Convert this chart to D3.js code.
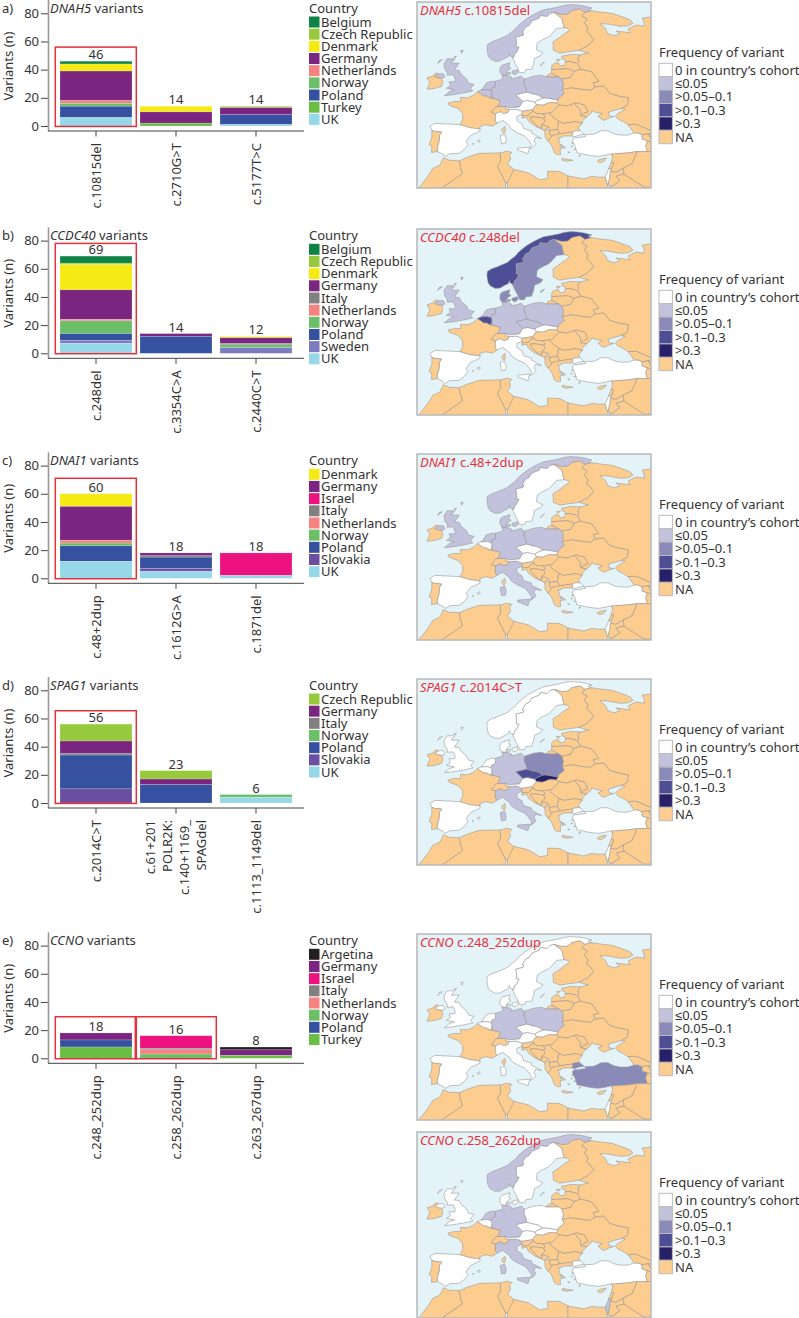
<!DOCTYPE html>
<html>
<head>
<meta charset="utf-8">
<script src="https://d3js.org/d3.v7.min.js"></script>
<style>
body { margin: 0; background: #fff; }
text { font-family: "Noto Sans", sans-serif; fill: #333; }
</style>
</head>
<body>
<div class="container"></div>
<script>
var dnah5Variants = ['c.10815del', 'c.2710G>T', 'c.5177T>C'];
var dnah5Countries = ['Belgium', 'Czech Republic', 'Denmark', 'Germany', 'Netherlands', 'Norway', 'Poland', 'Turkey', 'UK'];
var dnah5Values = [[2, 0, 0], [0, 0, 1], [5, 4, 0], [21, 8, 5], [2, 0, 0], [2, 0, 0], [8, 0, 7], [0, 2, 0], [6, 0, 1]];
var dnah5Totals = [46, 14, 14];

var ccdc40Variants = ['c.248del', 'c.3354C>A', 'c.2440C>T'];
var ccdc40Countries = ['Belgium', 'Czech Republic', 'Denmark', 'Germany', 'Italy', 'Netherlands', 'Norway', 'Poland', 'Sweden', 'UK'];
var ccdc40Values = [[5, 0, 0], [1, 0, 0], [18, 0, 1], [21, 2, 4], [0, 0, 1], [1, 0, 0], [9, 0, 2], [5, 12, 0], [2, 0, 4], [7, 0, 0]];
var ccdc40Totals = [69, 14, 12];

var dnai1Variants = ['c.48+2dup', 'c.1612G>A', 'c.1871del'];
var dnai1Countries = ['Denmark', 'Germany', 'Israel', 'Italy', 'Netherlands', 'Norway', 'Poland', 'Slovakia', 'UK'];
var dnai1Values = [[9, 0, 0], [24, 2, 0], [0, 0, 16], [0, 1, 0], [2, 0, 0], [2, 0, 0], [11, 8, 0], [0, 2, 0], [12, 5, 2]];
var dnai1Totals = [60, 18, 18];

var spag1Variants = ['c.2014C>T', ['c.61+201', 'POLR2K:', 'c.140+1169_', 'SPAGdel'], 'c.1113_1149del'];
var spag1Countries = ['Czech Republic', 'Germany', 'Italy', 'Norway', 'Poland', 'Slovakia', 'UK'];
var spag1Values = [[12, 6, 0], [9, 4, 0], [1, 0, 0], [0, 0, 2], [24, 13, 0], [10, 0, 0], [0, 0, 4]];
var spag1Totals = [56, 23, 6];

var ccnoVariants = ['c.248_252dup', 'c.258_262dup', 'c.263_267dup'];
var ccnoCountries = ['Argetina', 'Germany', 'Israel', 'Italy', 'Netherlands', 'Norway', 'Poland', 'Turkey'];
var ccnoValues = [[0, 0, 2], [5, 0, 4], [0, 9, 0], [0, 1, 0], [0, 3, 0], [0, 3, 0], [5, 0, 0], [8, 0, 2]];
var ccnoTotals = [18, 16, 8];

var yTicks = [0, 20, 40, 60, 80];

var countryColours = {
    'Argetina': '#231f20', 'Belgium': '#0f8345', 'Czech Republic': '#97c93d', 'Denmark': '#f5ea14',
    'Germany': '#7a2580', 'Israel': '#ec1380', 'Italy': '#808080', 'Netherlands': '#f58181',
    'Norway': '#6cbf69', 'Poland': '#36519f', 'Slovakia': '#6a4ea0', 'Sweden': '#7b7bbd',
    'Turkey': '#6abd45', 'UK': '#96d8e8'
};

var freqLabels = ['0 in country\u2019s cohort', '\u22640.05', '>0.05\u20130.1', '>0.1\u20130.3', '>0.3', 'NA'];
var freqColours = ['#ffffff', '#c3c2dc', '#8a8ab8', '#4d4e96', '#272068', '#fdcd90'];

// outlines as [lon, lat]
var norway = [[[11.2,59],[10.6,59.3],[10.5,59.8],[10.2,59.1],[9.3,58.7],[8.2,58.1],[7,58],[5.7,58.6],[5.2,59.3],[5,60.3],[4.9,61],[5,61.9],[6,62.5],[7.5,63],[8.8,63.5],[10,64],[11,64.8],[12,65.5],[12.8,66.4],[14,67.3],[15,68],[16.3,68.7],[17.5,69.3],[19,69.9],[20.8,70.2],[22.5,70.5],[24,70.9],[25.7,71.1],[27.5,71],[29,70.8],[31,70.3],[30,70],[30.9,69.7],[29.3,69.3],[28,70.1],[26,69.7],[25,68.9],[23.5,68.8],[21.6,69.3],[20.6,69.05],[19.9,68.35],[18.1,68.55],[17.9,67.95],[16.1,67.3],[15.4,66.3],[14.5,65.9],[13.7,64.6],[14.1,64.5],[13.9,64],[12.1,63.6],[12.3,62.3],[12.2,61.4],[12.9,61.3],[12.2,60],[11.8,59.8],[11.6,58.9]]];
var sweden = [[[20.6,69.05],[21.6,69.3],[23.6,67.9],[23.7,67.2],[24.1,65.8],[22.2,65.6],[21.3,64.6],[20.3,63.7],[18.5,62.9],[17.4,62.2],[17.2,60.7],[18.8,60],[18.2,59.3],[16.7,58.7],[16.5,57.5],[16,56.2],[14.6,56.1],[14.2,55.4],[13,55.4],[12.7,56.2],[11.9,57.5],[11.2,59],[11.6,58.9],[11.8,59.8],[12.2,60],[12.9,61.3],[12.2,61.4],[12.3,62.3],[12.1,63.6],[13.9,64],[14.1,64.5],[13.7,64.6],[14.5,65.9],[15.4,66.3],[16.1,67.3],[17.9,67.95],[18.1,68.55],[19.9,68.35]],
    [[18.2,57],[18.9,57.5],[19.2,57.9],[18.4,57.4]]];
var finland = [[[21.6,69.3],[23.5,68.8],[25,68.9],[26,69.7],[28,70.1],[29.3,69.3],[28.5,68.5],[29.9,67.7],[29.1,66.9],[30.1,65.7],[29.7,64.8],[30.5,64.2],[31.5,63],[29.8,61.5],[27.8,60.55],[25,60.2],[23,59.9],[21.4,60.6],[21.4,61.5],[21.3,62.5],[22.8,63.4],[24.5,64.6],[25.4,65.1],[25,65.6],[24.1,65.8],[23.7,67.2],[23.6,67.9]]];
var russia = [[[30.9,69.7],[33,69.4],[36,69.1],[38.5,68.3],[40.5,67.6],[41.2,66.8],[40,66.2],[38,66.1],[35,66.6],[33,66.7],[34.5,65.5],[34.8,64.5],[36.5,63.9],[38,64.4],[37,65],[40.5,64.6],[40,65.5],[42,66.4],[44,66.1],[44,67],[43.5,68],[46,68.3],[50,68],[50,41.9],[46,41.9],[44,42.7],[42,43.5],[40,43.4],[39,44],[37.5,44.7],[36.8,45.4],[37.5,46],[39.3,47],[38.2,47.1],[39.8,47.9],[40.1,49.6],[38,49.9],[35.4,50.6],[34,52.3],[31.8,52.1],[31.3,53.1],[32.7,53.4],[30.9,55.6],[28.2,56.2],[27.4,57.5],[27.7,57.8],[27.5,58.8],[28.1,59.5],[30.2,59.95],[29,60.2],[27.8,60.55],[29.8,61.5],[31.5,63],[30.5,64.2],[29.7,64.8],[30.1,65.7],[29.1,66.9],[29.9,67.7],[28.5,68.5],[29.3,69.3]],
    [[19.7,54.4],[22.8,54.4],[21,55.3],[20,54.9]]];
var estonia = [[[24.4,57.9],[25.3,58],[27.4,57.5],[27.7,57.8],[27.5,58.8],[28.1,59.5],[25.8,59.6],[23.5,59.2],[23.6,58.6],[24.4,58.3]], [[22.1,58.4],[23.2,58.5],[22.6,58]]];
var latvia = [[[21,56.1],[21,57],[21.7,57.6],[22.6,57.7],[23.2,57],[24.2,57.1],[24.4,57.9],[25.3,58],[27.4,57.5],[28.2,56.2],[26.6,55.7],[25,56.3]]];
var lithuania = [[[21,55.3],[21,56.1],[25,56.3],[26.6,55.7],[25.7,54.3],[23.5,53.9],[22.8,54.4]]];
var belarus = [[[23.6,51.5],[25.8,51.9],[28,51.6],[30.6,51.3],[31.8,52.1],[31.3,53.1],[32.7,53.4],[30.9,55.6],[28.2,56.2],[26.6,55.7],[25.7,54.3],[23.5,53.9],[23.9,52.7]]];
var ukraine = [[[23.6,51.5],[25.8,51.9],[28,51.6],[30.6,51.3],[31.8,52.1],[34,52.3],[35.4,50.6],[38,49.9],[40.1,49.6],[39.8,47.9],[38.2,47.1],[36.5,46.7],[35,46.2],[35.4,45.4],[36.5,45.3],[35.4,45],[34,44.4],[33.5,44.6],[32.5,45.4],[33.6,46],[32,46.2],[31,46.6],[30.7,46],[29.7,45.2],[28.2,45.45],[28.9,46],[30,46.4],[29.2,47.9],[27.2,48.4],[26.6,48.3],[24.9,47.7],[22.9,47.95],[22.15,48.4],[22.55,49.1],[22.7,49.6],[24.1,50.6]]];
var moldova = [[[26.6,48.3],[27.2,48.4],[29.2,47.9],[30,46.4],[28.9,46],[28.2,45.45],[28.1,46.7]]];
var romania = [[[20.3,46.1],[21.1,46.3],[22.9,47.95],[24.9,47.7],[26.6,48.3],[28.1,46.7],[28.2,45.45],[29.7,45.2],[28.7,44.3],[28.6,43.7],[27,44.1],[24,43.7],[22.7,44.2],[21.4,45.1]]];
var bulgaria = [[[22.7,44.2],[24,43.7],[27,44.1],[28.6,43.7],[27.7,42.7],[28,42],[26.9,42],[26.1,41.7],[24.5,41.5],[23,41.3],[22.4,42.3],[22.5,43]]];
var poland = [[[14.2,53.9],[16.5,54.6],[18.4,54.8],[19.7,54.4],[22.8,54.4],[23.5,53.9],[23.9,52.7],[23.6,51.5],[24.1,50.6],[22.7,49.6],[22.55,49.1],[20.9,49.35],[19.5,49.55],[18.85,49.5],[17.7,50.2],[16.9,50.4],[16.2,50.5],[14.8,50.9],[14.6,51.8],[14.1,52.9]]];
var germany = [[[7,53.4],[8,53.7],[8.9,53.9],[8.6,54.9],[9.9,54.8],[11,54.4],[10.9,54],[12.2,54.2],[13.4,54.6],[14.2,53.9],[14.1,52.9],[14.6,51.8],[14.8,50.9],[12.1,50.3],[13.8,48.8],[13,47.5],[10.2,47.3],[9.5,47.6],[7.6,47.6],[8.2,49],[6.4,49.45],[6.1,50.1],[6.1,50.8],[6,51.2],[6,51.8],[7,52.2]]];
var denmark = [[[8.6,54.9],[8.1,55.6],[8.2,56.6],[8.6,57.1],[10.6,57.7],[10.3,56.7],[10.9,56.4],[10,55.8],[9.6,55.2],[9.9,54.8]], [[11.1,55.7],[12.5,56.1],[12.6,55.4],[11.9,54.9],[11.2,55.2]], [[9.8,55.4],[10.8,55.4],[10.6,55],[9.9,55.1]]];
var netherlands = [[[3.4,51.4],[4,52],[4.7,53],[6,53.4],[7,53.4],[7,52.2],[6,51.8],[6,51.2],[5,51.5]]];
var belgium = [[[3.4,51.4],[5,51.5],[6,51.2],[6.1,50.8],[6.1,50.1],[5.8,49.5],[4.8,50],[4.1,50],[2.5,51.05]]];
var luxembourg = [[[5.8,49.5],[6.4,49.45],[6.1,50.1]]];
var france = [[[2.5,51.05],[4.1,50],[4.8,50],[5.8,49.5],[6.4,49.45],[8.2,49],[7.6,47.6],[7,47.4],[6,46.2],[7,45.9],[7,44.2],[7.5,43.8],[6.2,43.05],[4.5,43.4],[3.1,42.9],[3.2,42.4],[0.7,42.7],[-1.8,43.4],[-1.1,44.7],[-1.2,46],[-2.2,47.1],[-4.5,47.9],[-4.8,48.4],[-3,48.8],[-1.6,48.7],[-1.7,49.7],[0.1,49.6],[1.6,50.2]],
    [[8.6,42.4],[9.4,43],[9.5,42.1],[9.2,41.4],[8.7,41.8]]];
var switzerland = [[[7.6,47.6],[9.5,47.6],[9.5,47.1],[10.5,46.9],[10.1,46.2],[9,45.9],[8.3,46.4],[7,45.9],[6,46.2],[7,47.4]]];
var spain = [[[-1.8,43.4],[0.7,42.7],[3.2,42.4],[3.1,41.9],[0.8,40.9],[-0.3,39.5],[0.2,38.8],[-0.7,37.7],[-2,36.8],[-4.4,36.7],[-5.4,36.1],[-6.3,36.7],[-7.4,37.2],[-7.5,38],[-7,39.6],[-6.9,41],[-6.3,41.7],[-8.1,41.85],[-8.8,42.1],[-9.3,43],[-8,43.7],[-3.5,43.5]],
    [[2.4,39.6],[3.1,39.9],[3.2,39.4],[2.8,39.4]], [[1.2,38.9],[1.6,39.1],[1.5,38.9]]];
var portugal = [[[-8.8,42.1],[-8.1,41.85],[-6.3,41.7],[-6.9,41],[-7,39.6],[-7.5,38],[-7.4,37.2],[-8.9,37],[-8.8,38.4],[-9.5,38.8],[-8.8,40.5]]];
var italy = [[[7.5,43.8],[7,44.2],[7,45.9],[8.3,46.4],[9,45.9],[10.1,46.2],[10.5,46.9],[12.2,47],[13.7,46.5],[13.6,45.8],[12.3,45.3],[12.4,44.3],[13.6,43.6],[14,42.5],[16.1,41.9],[15.9,41.5],[18.5,40.2],[17,40.5],[16.6,39.8],[17.1,39],[16.5,38.4],[15.7,37.9],[16,38.8],[15.1,40],[14.2,40.8],[12.5,41.5],[11,42.4],[10.4,43.3],[8.8,44.4]],
    [[12.5,38],[15.5,38.2],[15.1,36.7],[12.5,37.6]], [[8.2,40.9],[9.3,41.2],[9.7,40],[9.5,39.1],[8.5,39]]];
var austria = [[[13.8,48.8],[15,49],[16.9,48.6],[17.2,48],[16.2,46.85],[13.7,46.5],[12.2,47],[10.5,46.9],[9.5,47.1],[9.5,47.6],[10.2,47.3],[13,47.5]]];
var czech = [[[12.1,50.3],[14.8,50.9],[16.2,50.5],[16.9,50.4],[17.7,50.2],[18.85,49.5],[17.2,48.9],[16.9,48.6],[15,49],[13.8,48.8]]];
var slovakia = [[[17.2,48.9],[18.85,49.5],[19.5,49.55],[20.9,49.35],[22.55,49.1],[22.15,48.4],[20.5,48.5],[18.8,47.9],[17.2,48],[16.9,48.6]]];
var hungary = [[[17.2,48],[18.8,47.9],[20.5,48.5],[22.15,48.4],[22.9,47.95],[21.1,46.3],[20.3,46.1],[18.9,45.9],[17.2,46],[16.4,46.5],[16.2,46.85]]];
var slovenia = [[[13.7,46.5],[16.2,46.85],[16.4,46.5],[15.6,46],[15.3,45.5],[13.6,45.5],[13.6,45.8]]];
var croatia = [[[13.6,45.5],[15.3,45.5],[15.6,46],[16.4,46.5],[17.2,46],[18.9,45.9],[19.4,45.2],[19,44.9],[17,45.2],[15.8,45.2],[15.8,44.7],[17.5,43],[18.5,42.45],[17,43],[15.2,44.2],[14.8,45.1],[14.2,45],[13.6,44.9]]];
var bosnia = [[[15.8,45.2],[17,45.2],[19,44.9],[19.4,44.2],[18.5,43.4],[18.5,42.45],[17.5,43],[15.8,44.7]]];
var montenegro = [[[18.5,42.45],[18.5,43.4],[19.4,43.3],[20.3,42.85],[19.6,42.5],[19.3,41.9]]];
var serbia = [[[18.9,45.9],[20.3,46.1],[21.4,45.1],[22.7,44.2],[22.5,43],[22.4,42.3],[21.5,42.2],[20.5,42.1],[20.3,42.85],[19.4,43.3],[18.5,43.4],[19.4,44.2],[19,44.9],[19.4,45.2]]];
var albania = [[[19.3,41.9],[19.6,42.5],[20.5,42.1],[20.5,41.3],[21,40.6],[20.1,39.6],[19.4,40.4]]];
var macedonia = [[[20.5,42.1],[21.5,42.2],[22.4,42.3],[23,41.3],[21,40.9],[20.5,41.3]]];
var greece = [[[20.1,39.6],[21,40.6],[21,40.9],[23,41.3],[24.5,41.5],[26.1,41.7],[26.3,41.2],[26,40.8],[24,40.8],[23,40.3],[22.6,40.4],[23,39.3],[22.7,38.9],[24,38],[23.1,37.9],[23.2,36.5],[22.4,36.5],[21.7,36.9],[21.2,38.2],[20.8,38.9]],
    [[23.6,35.6],[26.3,35.2],[24.8,34.95],[23.6,35.2]], [[27.8,36],[28.2,36.4],[27.9,36.4]], [[26,39.2],[26.6,39.3],[26.3,39]], [[25.9,38.5],[26.1,38.5],[26,38.2]], [[23.1,38.9],[24.5,38],[24,38.4]], [[25,37.1],[25.5,37.1],[25.3,36.9]], [[26.5,37.7],[27,37.8],[26.7,37.6]]];
var turkey = [[[26.2,39.5],[26.8,38.5],[27.3,36.9],[28.5,36.7],[30.5,36.3],[32.5,36.1],[34,36.3],[35.9,36.7],[36.2,36],[37,36.7],[40,36.9],[42.3,37.2],[44.8,37.2],[44.4,38.5],[44.8,39.7],[43.5,40.1],[43.5,41.1],[42.5,41.5],[41.5,41.5],[40,41],[38,41],[36.5,41.3],[35,42],[33.3,42],[31.5,41.2],[29.2,41.1],[29.5,40.7],[27.5,40.4],[26.7,40.4],[26.2,40.05]],
    [[26.3,41.2],[26.1,41.7],[26.9,42],[28,42],[29.1,41.2],[27.5,40.95],[26.8,40.6],[26,40.8]]];
var georgia = [[[40,43.4],[42,43.5],[44,42.7],[46,41.9],[46.5,41.2],[45,41.3],[43.5,41.1],[42.5,41.5],[41.5,41.5]]];
var armenia = [[[43.5,41.1],[45,41.3],[46.5,39],[44.8,39.7],[43.5,40.1]]];
var iran = [[[46,41.9],[50,41.9],[50,37],[44.8,37.2],[44.4,38.5],[44.8,39.7],[46.5,39],[45,41.3],[46.5,41.2]]];
var syria = [[[35.9,36.7],[36.2,36],[35.8,34.7],[36.4,34.6],[35.9,33.3],[35.6,32.7],[36.9,32.4],[38.8,33.4],[41,34.4],[42.3,37.2],[40,36.9],[37,36.7]]];
var lebanon = [[[35.1,33.1],[35.8,34.7],[36.4,34.6],[35.9,33.3]]];
var israel = [[[34.25,31.3],[34.9,32.5],[35.1,33.1],[35.9,33.3],[35.6,32.7],[35.5,31.5],[35,29.5],[34.9,29.5]]];
var jordan = [[[35.6,32.7],[36.9,32.4],[38.8,33.4],[39,32],[37,31.5],[38,30.5],[36.1,29.2],[35,29.5],[35.5,31.5]]];
var saudi = [[[35,29],[36.1,29.2],[38,30.5],[37,31.5],[39,32],[44,29],[50,29],[50,26],[35,26]]];
var iraq = [[[38.8,33.4],[41,34.4],[42.3,37.2],[44.8,37.2],[50,37],[50,29],[44,29],[39,32]]];
var cyprus = [[[32.3,35],[33,35.4],[34.6,35.7],[34,35],[33,34.6]]];
var egypt = [[[25,31.6],[29,30.9],[31,31.5],[32.3,31.3],[34.25,31.3],[34.9,29.5],[34.3,27.8],[33,28.5],[35,26],[36,22],[25,22]]];
var libya = [[[11.6,33.1],[15.2,32.3],[18,30.7],[20,31],[20,32.7],[23,32.6],[25,31.6],[25,22],[10,22],[10,30],[9.5,30.1]]];
var tunisia = [[[8.2,36.9],[9.9,37.3],[11.1,37],[10.5,36.4],[10.8,35.5],[10,34.3],[11.6,33.1],[10,30],[9.5,30.1],[7.5,33.8],[8.3,35]]];
var algeria = [[[-2,35.1],[0,35.9],[3,36.8],[8.2,36.9],[8.3,35],[7.5,33.8],[9.5,30.1],[10,22],[-5,22],[-8.7,27.3],[-1.2,32.1],[-1.7,33.5]]];
var morocco = [[[-5.9,35.8],[-4.5,35.2],[-2,35.1],[-1.7,33.5],[-1.2,32.1],[-8.7,27.3],[-13,27.7],[-9.8,31.5],[-8.6,33.3],[-6.8,34.1]]];
var uk = [[[-5.7,50.1],[-3.6,50.3],[-1,50.7],[1.4,51.2],[0.8,51.7],[1.7,52.7],[0.3,53],[-0.2,54],[-1.5,55],[-2,55.9],[-3.2,56],[-2,57.6],[-4,57.6],[-3.1,58.6],[-5,58.6],[-5.8,57.5],[-5.6,56.3],[-4.9,55.3],[-5,54.8],[-3.5,54.9],[-3,53.9],[-3.1,53.3],[-4.5,53.3],[-4.2,52.4],[-5.2,51.8],[-3.2,51.4],[-4.5,51]],
    [[-7.3,55.1],[-6,55.2],[-5.5,54.4],[-6.3,54.1],[-7.3,54.2],[-8.1,54.5]], [[-7.4,57.5],[-6.2,58.4],[-7,58.2]], [[-1.4,59.9],[-1,60.6],[-1.6,60.5]], [[-3.3,59],[-2.7,59.2],[-3,58.8]]];
var ireland = [[[-7.3,55.1],[-8.1,54.5],[-7.3,54.2],[-6.3,54.1],[-6.1,53.2],[-6.4,52.2],[-8.5,51.7],[-10,51.6],[-9.3,53.2],[-10,54.2],[-8.4,54.7],[-8.2,55.1],[-7.4,55.35]]];

var countryShapes = {
    Norway: norway, Sweden: sweden, Finland: finland, Russia: russia, Estonia: estonia, Latvia: latvia, Lithuania: lithuania,
    Belarus: belarus, Ukraine: ukraine, Moldova: moldova, Romania: romania, Bulgaria: bulgaria, Poland: poland, Germany: germany,
    Denmark: denmark, Netherlands: netherlands, Belgium: belgium, Luxembourg: luxembourg, France: france, Switzerland: switzerland,
    Spain: spain, Portugal: portugal, Italy: italy, Austria: austria, Czech: czech, Slovakia: slovakia, Hungary: hungary,
    Slovenia: slovenia, Croatia: croatia, Bosnia: bosnia, Montenegro: montenegro, Serbia: serbia, Albania: albania,
    Macedonia: macedonia, Greece: greece, Turkey: turkey, Georgia: georgia, Armenia: armenia, Iran: iran, Syria: syria,
    Lebanon: lebanon, Israel: israel, Jordan: jordan, Saudi: saudi, Iraq: iraq, Cyprus: cyprus, Egypt: egypt, Libya: libya,
    Tunisia: tunisia, Algeria: algeria, Morocco: morocco, UK: uk, Ireland: ireland
};

// countries in the study, anything else is NA on the maps
var cohortCountries = ['Norway', 'Sweden', 'UK', 'Denmark', 'Germany', 'Poland', 'Netherlands', 'Belgium', 'Czech', 'Slovakia', 'Austria', 'Italy', 'Spain', 'Turkey', 'Israel'];

var mapDnah5 = {Norway: 1, UK: 1, Denmark: 1, Germany: 1, Poland: 1, Netherlands: 1, Belgium: 1};
var mapCcdc40 = {Norway: 3, Sweden: 2, UK: 1, Denmark: 2, Germany: 1, Poland: 1, Netherlands: 1, Belgium: 3, Czech: 1};
var mapDnai1 = {Norway: 1, UK: 1, Denmark: 1, Germany: 1, Poland: 1, Netherlands: 1, Italy: 1};
var mapSpag1 = {Germany: 1, Italy: 1, Poland: 2, Czech: 3, Slovakia: 4};
var mapCcno248 = {Germany: 1, Poland: 1, Turkey: 2};
var mapCcno258 = {Norway: 1, Germany: 1, Netherlands: 1, Italy: 1, Israel: 1};

var WIDTH = 799;
var HEIGHT = 1318;
var UNIT_HEIGHT = 112.7 / 80;
var FONT_SIZE = 13;

var panels = [
    {tag: 'a)', gene: 'DNAH5', variants: dnah5Variants, countries: dnah5Countries, values: dnah5Values, totals: dnah5Totals, zero: 126, box: [[0, 56]]},
    {tag: 'b)', gene: 'CCDC40', variants: ccdc40Variants, countries: ccdc40Countries, values: ccdc40Values, totals: ccdc40Totals, zero: 353.3, box: [[0, 78]]},
    {tag: 'c)', gene: 'DNAI1', variants: dnai1Variants, countries: dnai1Countries, values: dnai1Values, totals: dnai1Totals, zero: 578.3, box: [[0, 71]]},
    {tag: 'd)', gene: 'SPAG1', variants: spag1Variants, countries: spag1Countries, values: spag1Values, totals: spag1Totals, zero: 803, box: [[0, 65.5]]},
    {tag: 'e)', gene: 'CCNO', variants: ccnoVariants, countries: ccnoCountries, values: ccnoValues, totals: ccnoTotals, zero: 1058.3, box: [[0, 29.5], [1, 29.5]]}
];

var maps = [
    {gene: 'DNAH5', variant: ' c.10815del', levels: mapDnah5, top: 2},
    {gene: 'CCDC40', variant: ' c.248del', levels: mapCcdc40, top: 229},
    {gene: 'DNAI1', variant: ' c.48+2dup', levels: mapDnai1, top: 454},
    {gene: 'SPAG1', variant: ' c.2014C>T', levels: mapSpag1, top: 679},
    {gene: 'CCNO', variant: ' c.248_252dup', levels: mapCcno248, top: 934},
    {gene: 'CCNO', variant: ' c.258_262dup', levels: mapCcno258, top: 1132}
];

var variantKey = function (variant) {
    return Array.isArray(variant) ? variant.join(' ') : variant;
};

var addBarPanel = function (svg, panel) {
    var g = svg.append('g');
    var zero = panel.zero;
    var keys = panel.variants.map(variantKey);

    var xScale = d3.scaleBand().domain(keys).range([56, 296]).paddingInner(0.1).paddingOuter(0.05);
    var yScale = d3.scaleLinear().domain([0, 80]).range([zero, zero - 80 * UNIT_HEIGHT]);

    var rows = keys.map(function (key, i) {
        var row = {variant: key};
        panel.countries.forEach(function (country, c) {
            row[country] = panel.values[c][i];
        });
        return row;
    });
    var series = d3.stack().keys(panel.countries).order(d3.stackOrderReverse)(rows);

    g.selectAll('g.series')
        .data(series)
        .enter()
        .append('g')
        .attr('fill', function (d) { return countryColours[d.key]; })
        .selectAll('rect')
        .data(function (d) { return d; })
        .enter()
        .append('rect')
        .attr('x', function (d) { return xScale(d.data.variant); })
        .attr('y', function (d) { return yScale(d[1]); })
        .attr('width', xScale.bandwidth())
        .attr('height', function (d) { return yScale(d[0]) - yScale(d[1]); })
        .attr('stroke', '#fff')
        .attr('stroke-opacity', function (d) { return d[1] > d[0] ? 0.3 : 0; })
        .attr('stroke-width', 0.6);

    g.selectAll('text.total')
        .data(panel.totals)
        .enter()
        .append('text')
        .attr('class', 'total')
        .attr('text-anchor', 'middle')
        .attr('font-size', FONT_SIZE)
        .attr('x', function (d, i) { return xScale(keys[i]) + xScale.bandwidth() / 2; })
        .attr('y', function (d) { return yScale(d) - 2; })
        .text(function (d) { return d; });

    // red boxes round the variants that are mapped
    panel.box.forEach(function (box) {
        g.append('rect')
            .attr('x', xScale(keys[box[0]]) - 4.7)
            .attr('y', yScale(box[1]))
            .attr('width', 81)
            .attr('height', yScale(-0.3) - yScale(box[1]))
            .attr('fill', 'none')
            .attr('stroke', '#e8303a')
            .attr('stroke-width', 1.5);
    });

    var yAxis = d3.axisLeft(yScale).tickValues(yTicks).tickSize(7).tickPadding(2);
    var yG = g.append('g').attr('transform', 'translate(48,0)').call(yAxis);
    yG.select('.domain').remove();
    yG.selectAll('line').attr('stroke', '#444');
    yG.selectAll('text').attr('font-size', FONT_SIZE).style('font-family', null);

    g.append('line').attr('x1', 48.5).attr('x2', 48.5).attr('y1', zero - 126).attr('y2', zero + 5)
        .attr('stroke', '#999').attr('stroke-width', 1.6);

    var xAxis = d3.axisBottom(xScale).tickSize(5.5).tickFormat('');
    var xG = g.append('g').attr('transform', 'translate(0,' + (zero + 5) + ')').call(xAxis);
    xG.select('.domain').remove();
    xG.selectAll('line').attr('stroke', '#444');
    g.append('line').attr('x1', 48).attr('x2', 304).attr('y1', zero + 5).attr('y2', zero + 5)
        .attr('stroke', '#444').attr('stroke-width', 1);

    panel.variants.forEach(function (variant, i) {
        var lines = Array.isArray(variant) ? variant : [variant];
        var centre = xScale(keys[i]) + xScale.bandwidth() / 2;
        lines.forEach(function (line, n) {
            var x = centre + (n - (lines.length - 1) / 2) * 17.3 + 4.5;
            g.append('text')
                .attr('text-anchor', 'end')
                .attr('font-size', FONT_SIZE)
                .attr('transform', 'translate(' + x + ',' + (zero + 17) + ') rotate(-90)')
                .text(line);
        });
    });

    g.append('text').attr('x', 2).attr('y', zero - 113.5).attr('font-size', FONT_SIZE).text(panel.tag);

    var title = g.append('text').attr('x', 50).attr('y', zero - 113.5).attr('font-size', FONT_SIZE);
    title.append('tspan').attr('font-style', 'italic').text(panel.gene);
    title.append('tspan').text(' variants');

    g.append('text')
        .attr('text-anchor', 'middle')
        .attr('font-size', FONT_SIZE)
        .attr('transform', 'translate(13,' + (zero - 60) + ') rotate(-90)')
        .text('Variants (n)');

    var legend = g.append('g').attr('transform', 'translate(309,' + (zero - 104) + ')');
    g.append('text').attr('x', 309).attr('y', zero - 113.5).attr('font-size', FONT_SIZE).text('Country');
    var items = legend.selectAll('g')
        .data(panel.countries)
        .enter()
        .append('g')
        .attr('transform', function (d, i) { return 'translate(0,' + (i * 12.17) + ')'; });
    items.append('rect').attr('y', -5.5).attr('width', 10.5).attr('height', 11)
        .attr('fill', function (d) { return countryColours[d]; });
    items.append('text').attr('x', 12).attr('y', 4.6).attr('font-size', FONT_SIZE).text(function (d) { return d; });
};

var addMap = function (svg, map, index) {
    var g = svg.append('g');
    var height = 186;
    var xScale = d3.scaleLinear().domain([-12.5, 45.7]).range([417, 651]);
    var yScale = d3.scaleLinear().domain([71.7, 28.8]).range([map.top, map.top + height]);

    var path = d3.geoPath(d3.geoTransform({
        point: function (lon, lat) {
            this.stream.point(xScale(lon), yScale(lat));
        }
    }));

    var clipId = 'mapClip' + index;
    g.append('clipPath').attr('id', clipId).append('rect')
        .attr('x', 417).attr('y', map.top).attr('width', 234).attr('height', height);

    g.append('rect').attr('x', 417).attr('y', map.top).attr('width', 234).attr('height', height).attr('fill', '#e3f3f8');

    var features = Object.keys(countryShapes).map(function (name) {
        return {type: 'Feature', properties: {name: name}, geometry: {type: 'MultiPolygon', coordinates: countryShapes[name].map(function (ring) {
            return [ring.concat([ring[0]])];
        })}};
    });

    g.append('g').attr('clip-path', 'url(#' + clipId + ')')
        .selectAll('path')
        .data(features)
        .enter()
        .append('path')
        .attr('d', path)
        .attr('fill', function (d) {
            var name = d.properties.name;
            if (map.levels[name] !== undefined) return freqColours[map.levels[name]];
            return cohortCountries.indexOf(name) > -1 ? freqColours[0] : freqColours[5];
        })
        .attr('stroke', '#999')
        .attr('stroke-width', 0.6)
        .attr('stroke-linejoin', 'round');

    g.append('rect').attr('x', 417).attr('y', map.top).attr('width', 234).attr('height', height)
        .attr('fill', 'none').attr('stroke', '#b8b8b8').attr('stroke-width', 1.5);

    var title = g.append('text').attr('x', 420).attr('y', map.top + 12.5).attr('font-size', 13).style('fill', '#e8303a');
    title.append('tspan').attr('font-style', 'italic').text(map.gene).style('fill', '#e8303a');
    title.append('tspan').text(map.variant).style('fill', '#e8303a');

    g.append('text').attr('x', 659).attr('y', map.top + 54.5).attr('font-size', FONT_SIZE).text('Frequency of variant');
    var items = g.selectAll('g.freq')
        .data(freqLabels)
        .enter()
        .append('g')
        .attr('class', 'freq')
        .attr('transform', function (d, i) { return 'translate(659,' + (map.top + 68 + i * 13.4) + ')'; });
    items.append('rect').attr('y', -6.7).attr('width', 13.4).attr('height', 13.4)
        .attr('fill', function (d, i) { return freqColours[i]; })
        .attr('stroke', '#bbb').attr('stroke-width', 1);
    items.append('text').attr('x', 16).attr('y', 4.6).attr('font-size', FONT_SIZE).text(function (d) { return d; });
};

var visualize = function () {
    var svg = d3.select('.container').append('svg').attr('width', WIDTH).attr('height', HEIGHT);
    panels.forEach(function (panel) { addBarPanel(svg, panel); });
    maps.forEach(function (map, i) { addMap(svg, map, i); });
};

window.onload = visualize;
</script>
</body>
</html>
